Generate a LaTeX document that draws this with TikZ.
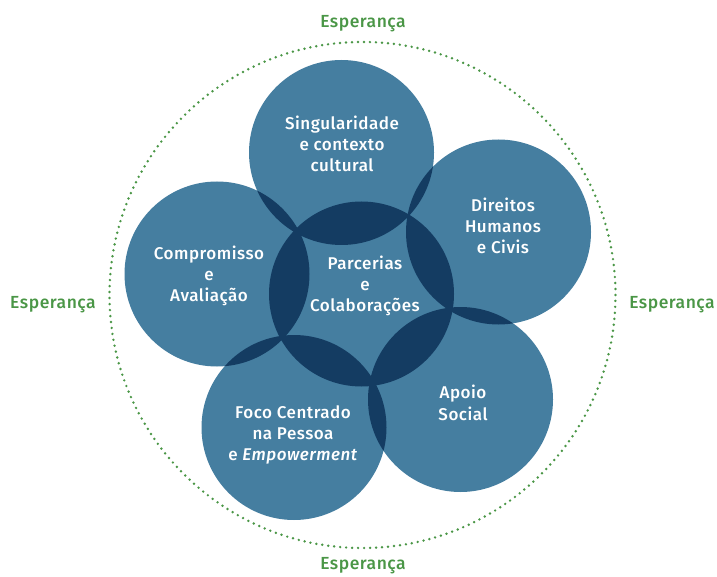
\documentclass[tikz,border=0pt]{standalone}
\usepackage{fontspec}
\setmainfont{Fira Sans}[UprightFont={* Medium},ItalicFont={* Medium Italic},LetterSpace=3]
\definecolor{lightblue}{RGB}{69,126,160}
\definecolor{darkblue}{RGB}{20,60,98}
\definecolor{hopegreen}{RGB}{74,150,70}
\begin{document}
\begin{tikzpicture}[x=1pt,y=-1pt,
  bubble/.style={circle,fill=lightblue,minimum size=185pt,inner sep=0pt},
  lbl/.style={text=white,align=center,font=\fontsize{17}{21.3}\selectfont},
  hope/.style={text=hopegreen,font=\fontsize{17.5}{19}\selectfont,inner sep=1pt},
  hopering/.style={hopegreen,line width=2.7pt,line cap=round,dash pattern=on 0pt off 6pt}]
\useasboundingbox (0,0) rectangle (717,577);
% outer dotted ring
\coordinate (ring) at (362.5,295);
\draw[hopering] (ring) circle (253pt);
% circles
\node[bubble] (sing) at (341.5,152.5) {};
\node[bubble] (dir)  at (498.5,232) {};
\node[bubble] (apo)  at (460.5,399.5) {};
\node[bubble] (foco) at (294,427.5) {};
\node[bubble] (comp) at (217,274) {};
\node[bubble] (parc) at (361.5,294) {};
% overlaps
\foreach \a/\b in {parc/sing,parc/dir,parc/apo,parc/foco,parc/comp,sing/dir,dir/apo,apo/foco,foco/comp,comp/sing}{
  \begin{scope}
    \clip (\a.center) circle (92.5pt);
    \fill[darkblue] (\b.center) circle (92.5pt);
  \end{scope}
}
% labels
\node[lbl] (tsing) at (342,144) {Singularidade\\e contexto\\cultural};
\node[lbl] (tdir)  at (503,226) {Direitos\\Humanos\\e Civis};
\node[lbl] (tparc) at (365,286) {Parcerias\\e\\Colaborações};
\node[lbl] (tcomp) at (209,276) {Compromisso\\e\\Avaliação};
\node[lbl] (tapo)  at (463,403) {Apoio\\Social};
\node[lbl] (tfoco) at (293,435) {Foco Centrado\\na Pessoa\\e \textit{Empowerment}};
% hope labels
\node[hope] (htop) at (363,24) {Esperança};
\node[hope] (hbot) at (363,566) {Esperança};
\node[hope] (hleft) at (53,305) {Esperança};
\node[hope] (hright) at (672,305) {Esperança};
\end{tikzpicture}
\end{document}
